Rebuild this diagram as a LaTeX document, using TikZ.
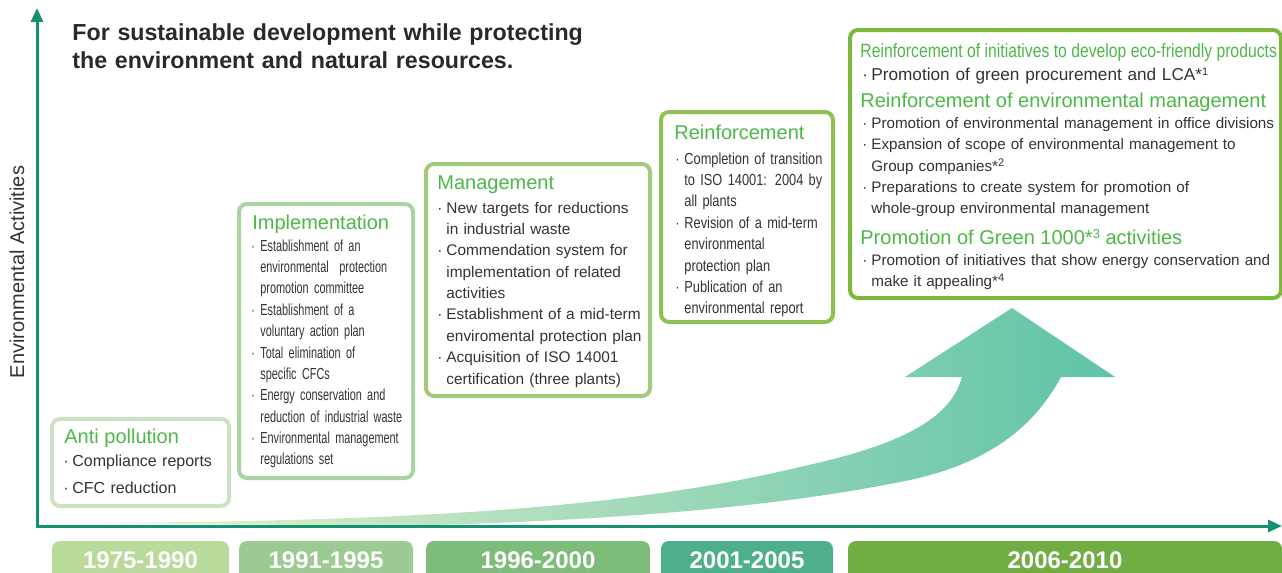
\documentclass[tikz,border=0pt]{standalone}
\usepackage{fontspec}
\setmainfont{Liberation Sans}
\newfontfamily\condfont[FakeStretch=0.68]{Liberation Sans}
\newfontfamily\semicondfont[FakeStretch=0.8]{Liberation Sans}
\newfontfamily\headfont[FakeStretch=0.82]{Liberation Sans}
\usetikzlibrary{positioning,arrows.meta}

\definecolor{axisgreen}{HTML}{14916F}
\definecolor{titlegreen}{HTML}{4DB848}
\definecolor{textgray}{HTML}{333333}
\definecolor{edgeA}{HTML}{CBE3C2}
\definecolor{edgeB}{HTML}{A9D3A0}
\definecolor{edgeC}{HTML}{A0C97C}
\definecolor{edgeD}{HTML}{8FC052}
\definecolor{edgeE}{HTML}{7DB83C}
\definecolor{barA}{HTML}{B8DA9A}
\definecolor{barB}{HTML}{9BCB93}
\definecolor{barC}{HTML}{7DBC79}
\definecolor{barD}{HTML}{4DB08A}
\definecolor{barE}{HTML}{70AD43}
\definecolor{arrowpale}{HTML}{EDF3CF}
\definecolor{arrowteal}{HTML}{5FC3A8}

\newcommand{\bul}{\makebox[4.5pt][l]{·}}
\newcommand{\cnt}{\hspace*{4.5pt}}
\newcommand{\fnote}[1]{*\raisebox{0.55ex}{\fontsize{5.5}{6}\selectfont #1}}

\tikzset{
  box/.style={line width=2pt, rounded corners=4pt, fill=white},
  bar/.style={rounded corners=4pt},
  ttl/.style={text=titlegreen, font=\fontsize{10}{12}\selectfont, anchor=base west, inner sep=0pt},
  itm/.style={text=textgray, anchor=base west, inner sep=0pt, align=left, text width=230pt},
  yr/.style={text=white, font=\bfseries\fontsize{12}{14}\selectfont}
}

\begin{document}
\begin{tikzpicture}[x=0.5pt,y=-0.5pt]
    \useasboundingbox (0,0) rectangle (1282,573);

    % growth arrow
    \shade[left color=arrowpale, right color=arrowteal]
      (90,523) .. controls (400,521) and (620,510) .. (800,467)
      .. controls (900,445) and (950,420) .. (962,377) -- (905,377) -- (1012,308)
      -- (1115,377) -- (1061,377) .. controls (1035,425) and (990,465) .. (900,482)
      .. controls (800,502) and (650,520) .. (400,526) -- cycle;

    % axes
    \coordinate (origin) at (37,526);
    \coordinate (ytop) at (37,8);
    \coordinate (xend) at (1282,526);
    \draw[axisgreen, line width=1.5pt, {Triangle[length=7pt,width=6pt]}-{Triangle[length=7pt,width=6pt]}]
      (ytop) -- (origin) -- (xend);
    \node[rotate=90, text=textgray, font=\fontsize{10}{12}\selectfont] at (17,272) (ylab) {Environmental Activities};

    % heading
    \node[itm, text width=300pt, text=textgray!80!black,
          font=\bfseries\fontsize{11.6}{14}\selectfont] at (72,40) (head)
      {For sustainable development while protecting\\the environment and natural resources.};

    % year bars
    \fill[bar, barA] (52,590) -- (52,541) -- (229,541) -- (229,590) -- cycle;
    \fill[bar, barB] (239,590) -- (239,541) -- (413,541) -- (413,590) -- cycle;
    \fill[bar, barC] (426,590) -- (426,541) -- (650,541) -- (650,590) -- cycle;
    \fill[bar, barD] (661,590) -- (661,541) -- (833,541) -- (833,590) -- cycle;
    \fill[bar, barE] (848,590) -- (848,541) -- (1282,541) -- (1282,590) -- cycle;
    \node[yr] at (140.5,560) (y1) {1975-1990};
    \node[yr] at (326,560) (y2) {1991-1995};
    \node[yr] at (538,560) (y3) {1996-2000};
    \node[yr] at (747,560) (y4) {2001-2005};
    \node[yr] at (1065,560) (y5) {2006-2010};

    % Anti pollution
    \draw[box, draw=edgeA] (52,419) rectangle (229,506);
    \node[ttl] at (64,443) (antit) {Anti pollution};
    \node[itm, font=\fontsize{8}{13.5}\selectfont] at (63,466) (antii)
      {\bul Compliance reports\\\bul CFC reduction};

    % Implementation
    \draw[box, draw=edgeB] (239,204) rectangle (413,478);
    \node[ttl] at (252,229) (impt) {Implementation};
    \node[itm, font=\condfont\fontsize{8}{10.7}\selectfont] at (251,251) (impi)
      {\bul Establishment of an\\\cnt environmental\ \ protection\\\cnt promotion committee\\
       \bul Establishment of a\\\cnt voluntary action plan\\
       \bul Total elimination of\\\cnt specific CFCs\\
       \bul Energy conservation and\\\cnt reduction of industrial waste\\
       \bul Environmental management\\\cnt regulations set};

    % Management
    \draw[box, draw=edgeC] (426,164) rectangle (650,396);
    \node[ttl] at (437,189) (mant) {Management};
    \node[itm, font=\fontsize{7.7}{10.7}\selectfont] at (437,213) (mani)
      {\bul New targets for reductions\\\cnt in industrial waste\\
       \bul Commendation system for\\\cnt implementation of related\\\cnt activities\\
       \bul Establishment of a mid-term\\\cnt enviromental protection plan\\
       \bul Acquisition of ISO 14001\\\cnt certification (three plants)};

    % Reinforcement
    \draw[box, draw=edgeD] (661,112) rectangle (833,322);
    \node[ttl] at (674,140) (reit) {Reinforcement};
    \node[itm, font=\semicondfont\fontsize{8}{10.7}\selectfont] at (675,164) (reii)
      {\bul Completion of transition\\\cnt to ISO 14001: 2004 by\\\cnt all plants\\
       \bul Revision of a mid-term\\\cnt environmental\\\cnt protection plan\\
       \bul Publication of an\\\cnt environmental report};

    % 2006-2010
    \draw[box, draw=edgeE] (850,30) rectangle (1281,298);
    \node[ttl, font=\headfont\fontsize{9.6}{12}\selectfont] at (860,57) (ecot)
      {Reinforcement of initiatives to develop eco-friendly products};
    \node[itm, font=\fontsize{8.6}{10.7}\selectfont] at (862,80) (ecoi)
      {\bul Promotion of green procurement and LCA\fnote{1}};
    \node[ttl] at (860,107) (emst)
      {Reinforcement of environmental management};
    \node[itm, font=\fontsize{7.6}{10.75}\selectfont] at (862,128) (emsi)
      {\bul Promotion of environmental management in office divisions\\
       \bul Expansion of scope of environmental management to\\\cnt Group companies\fnote{2}\\
       \bul Preparations to create system for promotion of\\\cnt whole-group environmental management};
    \node[ttl] at (860,244) (grnt)
      {Promotion of Green 1000*\raisebox{0.55ex}{\fontsize{6.5}{7}\selectfont 3} activities};
    \node[itm, font=\fontsize{7.6}{10.6}\selectfont] at (862,265) (grni)
      {\bul Promotion of initiatives that show energy conservation and\\\cnt make it appealing\fnote{4}};

\end{tikzpicture}
\end{document}
